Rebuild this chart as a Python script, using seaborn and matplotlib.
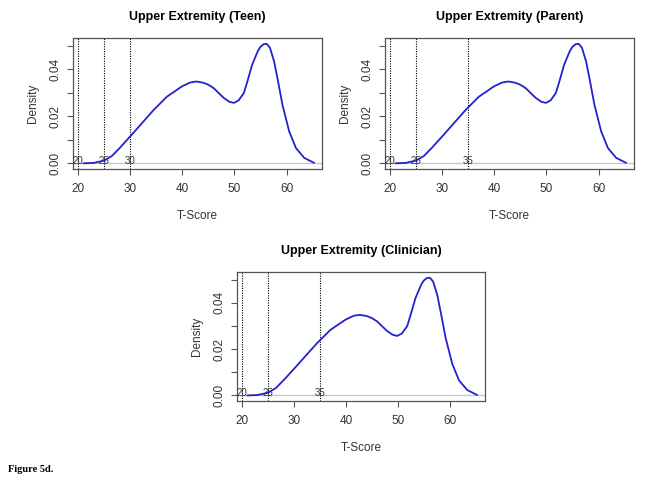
import matplotlib
matplotlib.use("Agg")
import matplotlib.pyplot as plt
import pandas as pd
import seaborn as sns

# density curve (same shape in all three panels)
t_score = [21, 23, 25, 26.5, 28, 30, 32, 34.4, 37, 39.9, 41.5, 42.7, 44, 45,
           46, 47.9, 49, 49.9, 50.8, 51.8, 52.5, 53.4, 54.5, 55, 55.6, 56.2,
           56.8, 57.6, 58.4, 59.2, 60.5, 61.8, 63.4, 65.3]
density = [0.0000, 0.0002, 0.0012, 0.0032, 0.0066, 0.0115, 0.0165, 0.0225,
           0.0283, 0.0327, 0.0344, 0.0348, 0.0343, 0.0334, 0.0320, 0.0279,
           0.0262, 0.0257, 0.0268, 0.0299, 0.0350, 0.0420, 0.0478, 0.0496,
           0.0507, 0.0508, 0.0492, 0.0434, 0.0345, 0.0250, 0.0136, 0.0065,
           0.0023, 0.0002]

panel_titles = ["Upper Extremity (Teen)", "Upper Extremity (Parent)",
                "Upper Extremity (Clinician)"]
cutoffs = [[20, 25, 30], [20, 25, 35], [20, 25, 35]]

x_ticks = [20, 30, 40, 50, 60]
y_ticks = [0.00, 0.01, 0.02, 0.03, 0.04, 0.05]
y_labels = ["0.00", "", "0.02", "", "0.04", ""]

sns.set_style("white")
plt.rcParams["font.family"] = ["Liberation Sans", "DejaVu Sans"]

df = pd.DataFrame({"T-Score": t_score, "Density": density})

fig = plt.figure(figsize=(6.45, 4.86), dpi=100)
positions = [
    [0.1132, 0.6523, 0.386, 0.2695],
    [0.5969, 0.6523, 0.386, 0.2695],
    [0.3674, 0.1749, 0.3845, 0.2654],
]

text_gray = "#333333"
for pos, title, cuts in zip(positions, panel_titles, cutoffs):
    ax = fig.add_axes(pos)
    ax.axhline(0, color="#c8c8c8", lw=1, zorder=1)
    for c in cuts:
        ax.axvline(c, color="black", ls=(0, (1, 1.2)), lw=0.8, zorder=2)
        ax.text(c, 0.0011, str(c), ha="center", va="center", fontsize=7,
                color=text_gray, zorder=3)
    sns.lineplot(data=df, x="T-Score", y="Density", ax=ax, color="#2222cc",
                 lw=1.3, zorder=4)
    ax.set_xlim(19.0, 66.8)
    ax.set_ylim(-0.0024, 0.0533)
    ax.set_xticks(x_ticks)
    ax.set_yticks(y_ticks)
    ax.set_yticklabels(y_labels, rotation=90, va="center")
    ax.tick_params(axis="x", pad=6)
    ax.tick_params(axis="y", pad=4)
    ax.tick_params(axis="both", direction="out", length=4, width=0.8,
                   colors="#555555", labelcolor=text_gray, labelsize=8.5,
                   bottom=True, left=True)
    for s in ax.spines.values():
        s.set_color("#555555")
        s.set_linewidth(0.9)
    ax.set_xlabel("T-Score", fontsize=8.5, color=text_gray, labelpad=11)
    ax.set_ylabel("Density", fontsize=8.5, color=text_gray, labelpad=8)
    ax.set_title(title, fontsize=9, fontweight="bold", color="black", pad=13)

fig.text(0.012, 0.028, "Figure 5d.", family="Liberation Serif",
         fontweight="bold", fontsize=7.5, color="black")

fig.savefig("out.png", dpi=100)
